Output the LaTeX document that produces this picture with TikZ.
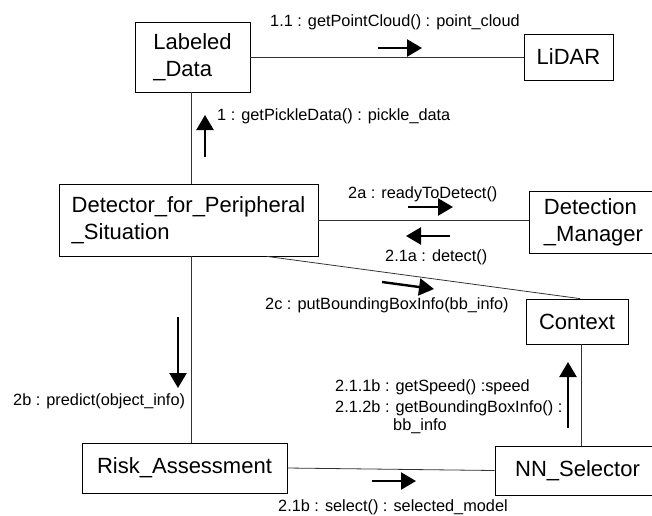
\documentclass[tikz,border=0pt]{standalone}
\usepackage{fontspec}
\setmainfont{Liberation Sans}
\usetikzlibrary{arrows.meta}
\tikzset{
  obj/.style={draw=black, line width=0.8pt, inner sep=0pt, align=left,
    font=\fontsize{22}{27}\selectfont},
  conn/.style={draw=black!80, line width=0.8pt},
  msg/.style={line width=2.4pt, -{Triangle[length=15pt,width=17pt]}},
  lbl/.style={anchor=base west, inner sep=0pt, font=\fontsize{16.3}{21}\selectfont}
}
\begin{document}
\begin{tikzpicture}[x=1pt,y=-1pt]
\useasboundingbox (0,0) rectangle (652,515);
% objects
\node[obj, minimum width=115pt, minimum height=70pt] (LD) at (192.5,57) {Labeled\\\_Data};
\node[obj, minimum width=89pt, minimum height=46pt] (LiDAR) at (568.5,57) {LiDAR};
\node[obj, minimum width=259pt, minimum height=72pt] (Det) at (188.5,220) {Detector\_for\_Peripheral\\\_Situation};
\node[obj, minimum width=129pt, minimum height=62pt] (DM) at (593.5,222) {Detection\\\_Manager};
\node[obj, minimum width=102pt, minimum height=45pt] (Ctx) at (577,321.5) {Context};
\node[obj, minimum width=205pt, minimum height=50pt] (RA) at (184.5,468) {Risk\_Assessment};
\node[obj, minimum width=165pt, minimum height=49pt] (NN) at (577.5,470.5) {NN\_Selector};
% connectors
\draw[conn] (LD.east) -- (LiDAR.west);
\draw[conn] ([xshift=-1.5pt]LD.south) -- ([xshift=-1.5pt]LD.south |- Det.north);
\draw[conn] (Det.east) -- (DM.west |- Det.east);
\draw[conn] ([xshift=78.5pt]Det.south) -- ([xshift=3pt]Ctx.north);
\draw[conn] ([xshift=2.5pt]Det.south) -- ([xshift=2.5pt]Det.south |- RA.north);
\draw[conn] (RA.east) -- (NN.west);
\draw[conn] ([xshift=4pt]Ctx.south) -- ([xshift=4pt]Ctx.south |- NN.north);
% message arrows
\coordinate (m11a) at (378,48); \coordinate (m11b) at (422,48);
\draw[msg] (m11a) -- (m11b);
\coordinate (m1a) at (205,157); \coordinate (m1b) at (205,115);
\draw[msg] (m1a) -- (m1b);
\coordinate (m2aa) at (408,207); \coordinate (m2ab) at (453,207);
\draw[msg] (m2aa) -- (m2ab);
\coordinate (m21aa) at (450,236); \coordinate (m21ab) at (406,236);
\draw[msg] (m21aa) -- (m21ab);
\coordinate (m2ca) at (382,282); \coordinate (m2cb) at (434,289);
\draw[msg] (m2ca) -- (m2cb);
\coordinate (m2ba) at (178,317); \coordinate (m2bb) at (178,388);
\draw[msg] (m2ba) -- (m2bb);
\coordinate (m21ba) at (372,481); \coordinate (m21bb) at (416,481);
\draw[msg] (m21ba) -- (m21bb);
\coordinate (m211a) at (568,428); \coordinate (m211b) at (568,362);
\draw[msg] (m211a) -- (m211b);
% labels
\node[lbl] (l11) at (270,26) {1.1 : getPointCloud() : point\_cloud};
\node[lbl] (l1) at (217,120) {1 : getPickleData() : pickle\_data};
\node[lbl] (l2a) at (348,198) {2a : readyToDetect()};
\node[lbl] (l21a) at (385,261) {2.1a : detect()};
\node[lbl] (l2c) at (265,309) {2c : putBoundingBoxInfo(bb\_info)};
\node[lbl] (l2b) at (13,405) {2b : predict(object\_info)};
\node[lbl] (l21b) at (278,511) {2.1b : select() : selected\_model};
\node[lbl] (l211) at (335,391) {2.1.1b : getSpeed() :speed};
\node[lbl] (l212) at (335,412) {2.1.2b : getBoundingBoxInfo() :};
\node[lbl] (l212b) at (393,430) {bb\_info};
\end{tikzpicture}
\end{document}
